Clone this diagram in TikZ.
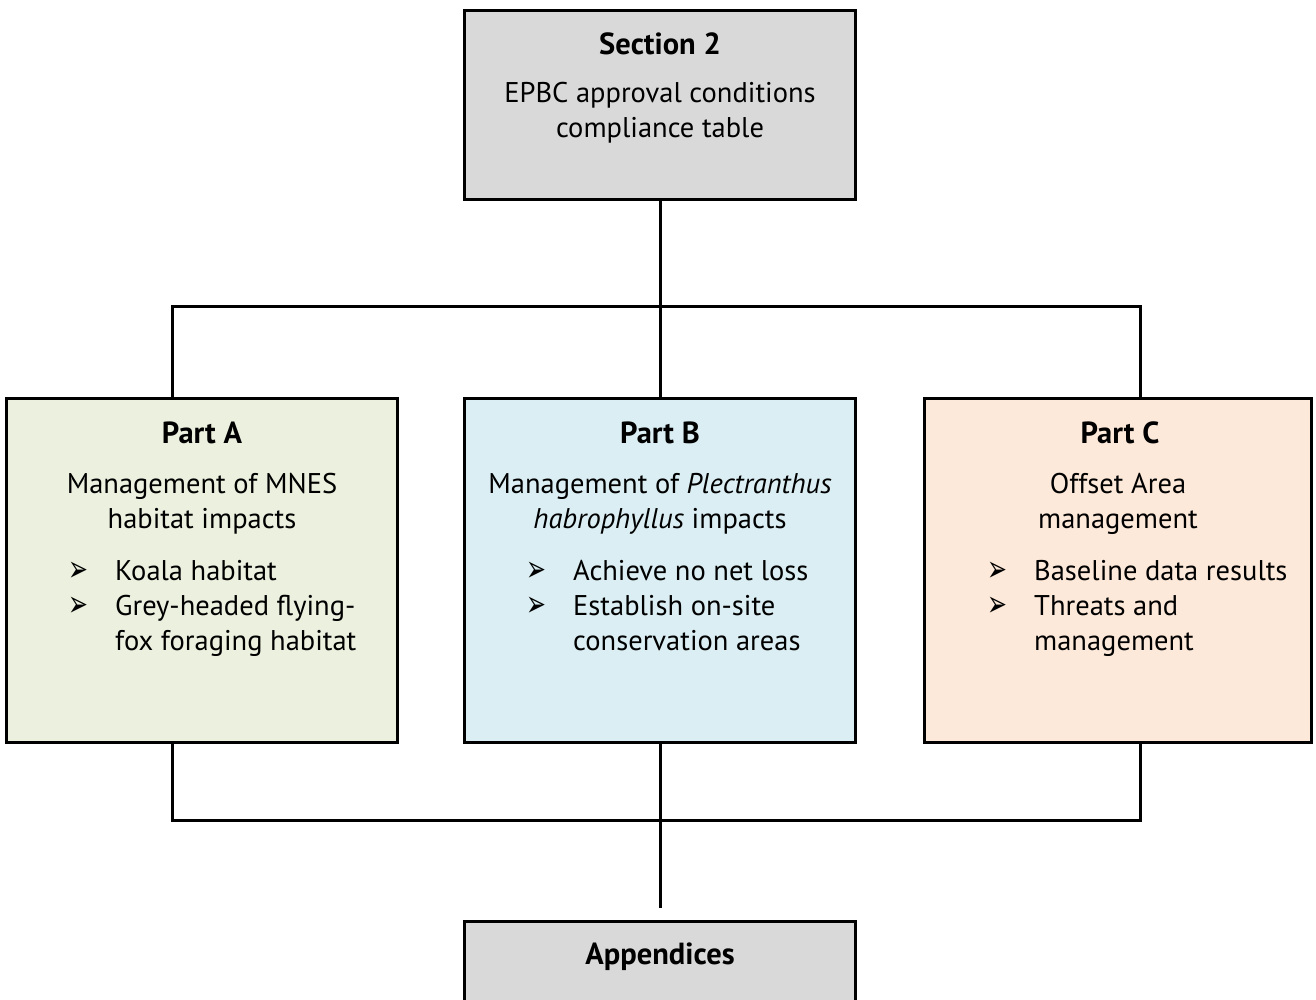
\documentclass[tikz,border=0pt]{standalone}
\usepackage{graphicx}
\usepackage{fontspec}
\setmainfont{PT Sans}
\newfontfamily\symfont{DejaVu Sans}
\definecolor{boxgray}{HTML}{D9D9D9}
\definecolor{boxgreen}{HTML}{EBF1DE}
\definecolor{boxblue}{HTML}{DAEEF3}
\definecolor{boxpeach}{HTML}{FDE9D9}
\newcommand{\arrowbullet}{\scalebox{0.85}[1.3]{➢}}
\begin{document}
\begin{tikzpicture}[x=1pt,y=-1pt,
  box/.style={draw=black, line width=3pt, inner sep=0pt, minimum width=391pt},
  txt/.style={inner sep=0pt, anchor=base, font=\fontsize{28.5}{35}\selectfont},
  ttl/.style={inner sep=0pt, anchor=base, font=\fontsize{30.5}{35}\selectfont\bfseries},
  bl/.style={inner sep=0pt, anchor=center, font=\symfont\fontsize{28}{28}\selectfont},
  bt/.style={inner sep=0pt, anchor=base west, font=\fontsize{28.5}{35}\selectfont},
  link/.style={draw=black, line width=3pt}]
\useasboundingbox (0,0) rectangle (1316,1000);
\clip (0,0) rectangle (1316,1000);
% boxes
\node[box, fill=boxgray, minimum height=189pt] (s2) at (660,105) {};
\node[box, fill=boxgreen, minimum height=344pt] (pa) at (202,570.5) {};
\node[box, fill=boxblue, minimum height=344pt] (pb) at (660,570.5) {};
\node[box, fill=boxpeach, minimum width=387pt, minimum height=344pt] (pc) at (1118,570.5) {};
\node[box, fill=boxgray, minimum height=100pt] (ap) at (660,971.5) {};
% junction coordinates
\coordinate (jtl) at (172,306);
\coordinate (jtr) at (1140,306);
\coordinate (jbl) at (172,820);
\coordinate (jbr) at (1140,820);
\coordinate (apend) at (660,908);
% connectors
\draw[link] (s2.south) -- (pb.north);
\draw[link] (pa.north -| jtl) -- (jtl) -- (jtr) -- (pc.north -| jtr);
\draw[link] (pa.south -| jbl) -- (jbl) -- (jbr) -- (pc.south -| jbr);
\draw[link] (pb.south) -- (apend);
% Section 2
\node[ttl] (s2t) at (660,55) {Section 2};
\node[txt] (s2l1) at (660,103) {EPBC approval conditions};
\node[txt] (s2l2) at (660,138) {compliance table};
% Part A
\node[ttl] (pat) at (202,443) {Part A};
\node[txt] (pal1) at (202,493) {Management of MNES};
\node[txt] (pal2) at (202,528) {habitat impacts};
\node[bl] (pab1) at (78,572) {\arrowbullet};
\node[bt] (pat1) at (115,580) {Koala habitat};
\node[bl] (pab2) at (78,607) {\arrowbullet};
\node[bt] (pat2) at (115,615) {Grey-headed flying-};
\node[bt] (pat3) at (115,650) {fox foraging habitat};
% Part B
\node[ttl] (pbt) at (660,443) {Part B};
\node[txt] (pbl1) at (660,493) {Management of \textit{Plectranthus}};
\node[txt] (pbl2) at (660,528) {\textit{habrophyllus} impacts};
\node[bl] (pbb1) at (536,572) {\arrowbullet};
\node[bt] (pbt1) at (573,580) {Achieve no net loss};
\node[bl] (pbb2) at (536,607) {\arrowbullet};
\node[bt] (pbt2) at (573,615) {Establish on-site};
\node[bt] (pbt3) at (573,650) {conservation areas};
% Part C
\node[ttl] (pct) at (1120,443) {Part C};
\node[txt] (pcl1) at (1118,493) {Offset Area};
\node[txt] (pcl2) at (1118,528) {management};
\node[bl] (pcb1) at (997,572) {\arrowbullet};
\node[bt] (pct1) at (1034,580) {Baseline data results};
\node[bl] (pcb2) at (997,607) {\arrowbullet};
\node[bt] (pct2) at (1034,615) {Threats and};
\node[bt] (pct3) at (1034,650) {management};
% Appendices
\node[ttl] (apt) at (660,964) {Appendices};
\end{tikzpicture}
\end{document}
